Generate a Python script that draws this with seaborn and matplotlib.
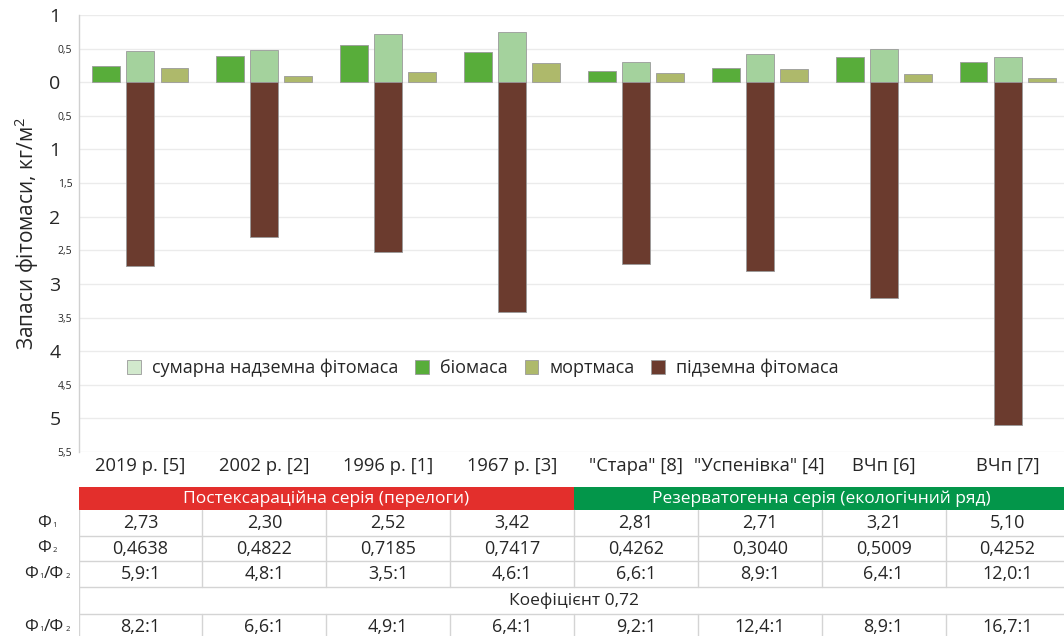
import numpy as np
import pandas as pd
import matplotlib
matplotlib.use("Agg")
import matplotlib.pyplot as plt
from matplotlib.patches import Patch, Rectangle
from matplotlib.ticker import FixedLocator, MultipleLocator
from matplotlib.offsetbox import TextArea, HPacker, AnnotationBbox
import seaborn as sns

# ---- data -------------------------------------------------------------
categories = ['2019 р. [5]', '2002 р. [2]', '1996 р. [1]', '1967 р. [3]',
              '"Стара" [8]', '"Успенівка" [4]', 'ВЧп [6]', 'ВЧп [7]']
biomass = [0.24, 0.39, 0.56, 0.45, 0.16, 0.21, 0.38, 0.30]
total_above = [0.4638, 0.4822, 0.7185, 0.7417, 0.30, 0.42, 0.5009, 0.38]
mortmass = [0.21, 0.09, 0.15, 0.28, 0.14, 0.20, 0.12, 0.07]
underground = [2.73, 2.30, 2.52, 3.42, 2.71, 2.81, 3.21, 5.10]

series_names = ['біомаса', 'сумарна надземна фітомаса', 'мортмаса']
legend_order = ['сумарна надземна фітомаса', 'біомаса', 'мортмаса', 'підземна фітомаса']

series_groups = ['Постексараційна серія (перелоги)', 'Резерватогенна серія (екологічний ряд)']
group_sizes = [4, 4]

# row labels as (text, is_subscript) pieces
row_labels = [
    [('Ф', False), ('1', True)],
    [('Ф', False), ('2', True)],
    [('Ф', False), ('1', True), ('/Ф', False), ('2', True)],
    [],
    [('Ф', False), ('1', True), ('/Ф', False), ('2', True)],
]
phi1_text = ['2,73', '2,30', '2,52', '3,42', '2,81', '2,71', '3,21', '5,10']
phi2_text = ['0,4638', '0,4822', '0,7185', '0,7417', '0,4262', '0,3040', '0,5009', '0,4252']
ratio_text = ['5,9:1', '4,8:1', '3,5:1', '4,6:1', '6,6:1', '8,9:1', '6,4:1', '12,0:1']
coef_note = 'Коефіцієнт 0,72'
ratio_coef_text = ['8,2:1', '6,6:1', '4,9:1', '6,4:1', '9,2:1', '12,4:1', '8,9:1', '16,7:1']

# ---- style ------------------------------------------------------------
sns.set_theme(style='white')
plt.rcParams['font.family'] = ['Open Sans', 'DejaVu Sans']
plt.rcParams['mathtext.fontset'] = 'custom'
plt.rcParams['mathtext.rm'] = 'Open Sans'
plt.rcParams['mathtext.it'] = 'Open Sans'

colors = {
    'біомаса': '#58ad3a',
    'сумарна надземна фітомаса': '#a4d29d',
    'мортмаса': '#aeb96b',
    'підземна фітомаса': '#6b3b2e',
}
legend_colors = dict(colors)
legend_colors['сумарна надземна фітомаса'] = '#d2e9cd'
text_color = '#262626'
grid_color = '#ebebeb'
edge = '#9a9a9a'

W, H = 1064, 636
fig = plt.figure(figsize=(W / 100, H / 100), dpi=100)
fig.patch.set_facecolor('white')

x0, x1 = 78.5, 1069.5
y_top, y_bot = 15, 452
ax = fig.add_axes([x0 / W, (H - y_bot) / H, (x1 - x0) / W, (y_bot - y_top) / H])

# ---- bars -------------------------------------------------------------
above = pd.DataFrame({
    'category': np.repeat(categories, 3),
    'series': series_names * len(categories),
    'value': np.ravel(np.column_stack([biomass, total_above, mortmass])),
})
sns.barplot(data=above, x='category', y='value', hue='series',
            order=categories, hue_order=series_names, palette=colors,
            saturation=1, width=0.825, gap=0.18, errorbar=None, legend=False,
            edgecolor=edge, linewidth=0.6, ax=ax)

below = pd.DataFrame({'category': categories, 'value': -np.asarray(underground)})
sns.barplot(data=below, x='category', y='value', order=categories,
            color=colors['підземна фітомаса'], saturation=1,
            width=0.226, errorbar=None, edgecolor=edge, linewidth=0.6, ax=ax)

for p in ax.patches:
    p.set_zorder(3)

# ---- axes -------------------------------------------------------------
ax.set_xlim(-0.5, 7.5)
ax.set_ylim(-5.5, 1.0)
ax.set_xlabel('')
ax.set_ylabel('Запаси фітомаси, кг/м$^{2}$', fontsize=15, color=text_color, labelpad=6)

yt = np.arange(-5.5, 1.01, 0.5)
ax.yaxis.set_major_locator(FixedLocator(yt))
ax.yaxis.set_minor_locator(MultipleLocator(0.25))

def fmt(v):
    a = abs(v)
    if abs(a - round(a)) < 1e-9:
        return str(int(round(a)))
    return f'{a:.1f}'.replace('.', ',')

ax.set_yticklabels([fmt(v) for v in yt])
ax.tick_params(axis='y', which='both', direction='inout', length=6,
               width=0.8, color='#c8c8c8', labelcolor=text_color)
for tick, v in zip(ax.yaxis.get_major_ticks(), yt):
    if abs(v - round(v)) < 1e-9:
        tick.label1.set_fontsize(14)
        tick.set_pad(10)
    else:
        tick.label1.set_fontsize(7.5)
        tick.set_pad(1.5)

ax.tick_params(axis='x', length=0, pad=3.5, labelsize=13.2, labelcolor=text_color)

ax.grid(axis='y', which='major', color=grid_color, linewidth=1)
ax.set_axisbelow(True)
for s in ['top', 'right', 'bottom']:
    ax.spines[s].set_visible(False)
ax.spines['left'].set_color('#d0d0d0')
ax.spines['left'].set_linewidth(1)

handles = [Patch(facecolor=legend_colors[n], edgecolor=edge, linewidth=0.6, label=n)
           for n in legend_order]
ax.legend(handles=handles, loc='center left', bbox_to_anchor=(0.033, 0.192),
          ncol=4, frameon=False, fontsize=13, handlelength=0.75,
          handleheight=0.75, handletextpad=0.6, columnspacing=0.95,
          labelcolor=text_color)

# ---- table below the chart -------------------------------------------
t_top, t_bot = 487, 640
tax = fig.add_axes([x0 / W, (H - t_bot) / H, (x1 - x0) / W, (t_bot - t_top) / H])
tax.set_xlim(-0.5, 7.5)
tax.set_ylim(t_bot, t_top)
tax.axis('off')

row_edges = [487, 510, 536, 561, 587, 614, 640]
band_colors = ['#e32f2c', '#03964a']
start = -0.5
for name, size, bc in zip(series_groups, group_sizes, band_colors):
    tax.add_patch(Rectangle((start, row_edges[0]), size, row_edges[1] - row_edges[0],
                            facecolor=bc, edgecolor='none'))
    tax.text(start + size / 2, (row_edges[0] + row_edges[1]) / 2, name,
             ha='center', va='center', color='white', fontsize=12.5)
    start += size

line_kw = dict(color='#d4d4d4', linewidth=1)
for yy in row_edges[2:-1]:
    tax.plot([-0.5, 7.5], [yy, yy], **line_kw)
tax.plot([-0.5, -0.5], [row_edges[1], row_edges[-1]], **line_kw)
for k in range(1, len(categories)):
    for r in (1, 2, 3, 5):
        tax.plot([k - 0.5, k - 0.5], [row_edges[r], row_edges[r + 1]], **line_kw)


def row_label(pieces, y):
    parts = []
    for txt, sub in pieces:
        size = 5.5 if sub else 12.5
        parts.append(TextArea(txt, textprops=dict(fontsize=size, color=text_color)))
    box = HPacker(children=parts, align='baseline', pad=0, sep=0.5)
    ab = AnnotationBbox(box, (label_x, y), xycoords='data', frameon=False,
                        box_alignment=(0.5, 0.5), annotation_clip=False)
    tax.add_artist(ab)


rows = [phi1_text, phi2_text, ratio_text, None, ratio_coef_text]
label_x = -0.754
for r, (lab, vals) in enumerate(zip(row_labels, rows)):
    yc = (row_edges[r + 1] + row_edges[r + 2]) / 2
    if lab:
        row_label(lab, yc)
    if vals is None:
        tax.text(3.5, yc, coef_note, ha='center', va='center', fontsize=12.5,
                 color=text_color)
        continue
    for i, s in enumerate(vals):
        tax.text(i, yc, s, ha='center', va='center', fontsize=13, color=text_color)

fig.savefig('out.png', dpi=100, facecolor='white')
